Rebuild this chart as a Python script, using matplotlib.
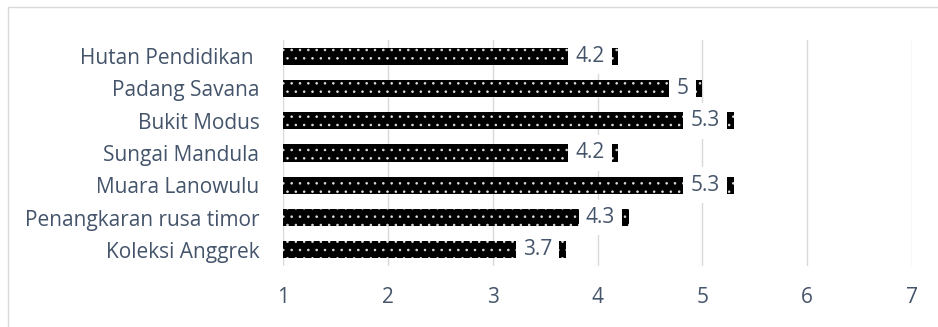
import matplotlib
matplotlib.use('Agg')
import matplotlib.pyplot as plt
from matplotlib.patches import Rectangle

plt.rcParams['font.family'] = ['Open Sans', 'DejaVu Sans']
plt.rcParams['hatch.linewidth'] = 0.6

# tourist sites, listed top to bottom
sites = ['Hutan Pendidikan ', 'Padang Savana', 'Bukit Modus', 'Sungai Mandula',
         'Muara Lanowulu', 'Penangkaran rusa timor', 'Koleksi Anggrek']
scores = [4.2, 5.0, 5.3, 4.2, 5.3, 4.3, 3.7]
score_labels = ['4.2', '5', '5.3', '4.2', '5.3', '4.3', '3.7']
xticks = [1, 2, 3, 4, 5, 6, 7]

text_col = '#44546A'
grid_col = '#D9D9D9'
fs = 15

fig = plt.figure(figsize=(9.38, 3.27), dpi=100)
fig.patches.append(Rectangle((8 / 938, -0.05), 1.2, 1 - 7 / 327 + 0.05,
                             transform=fig.transFigure, fill=False,
                             edgecolor=grid_col, linewidth=1))
ax = fig.add_axes([283 / 938, 1 - 266 / 327, 629 / 938, 226 / 327])

ypos = list(range(len(sites)))[::-1]
base = 1
widths = [s - base for s in scores]
ax.barh(ypos, widths, left=base, height=0.53, color='black',
        edgecolor='#E0E0E0', linewidth=0, hatch='..', zorder=2)

# value labels sit on a white box near the bar end, leaving a sliver of bar
for y, s, lbl in zip(ypos, scores, score_labels):
    ax.annotate(lbl, xy=(s, y), xytext=(-10, 0), textcoords='offset points',
                ha='right', va='center', fontsize=fs, color=text_col,
                bbox=dict(boxstyle='square,pad=0.35', facecolor='white',
                          edgecolor='none'), zorder=3)

ax.set_xlim(1, 7)
ax.set_ylim(-0.5, len(sites) - 0.5)
ax.set_xticks(xticks)
ax.set_xticklabels([str(t) for t in xticks])
ax.set_yticks(ypos)
ax.set_yticklabels(sites)
ax.tick_params(axis='both', length=0, labelsize=fs, colors=text_col)
ax.tick_params(axis='x', pad=15)
ax.tick_params(axis='y', pad=17)
ax.grid(axis='x', color=grid_col, linewidth=1, zorder=0)
ax.set_axisbelow(True)
for sp in ax.spines.values():
    sp.set_visible(False)

fig.savefig('out.png', dpi=100)
